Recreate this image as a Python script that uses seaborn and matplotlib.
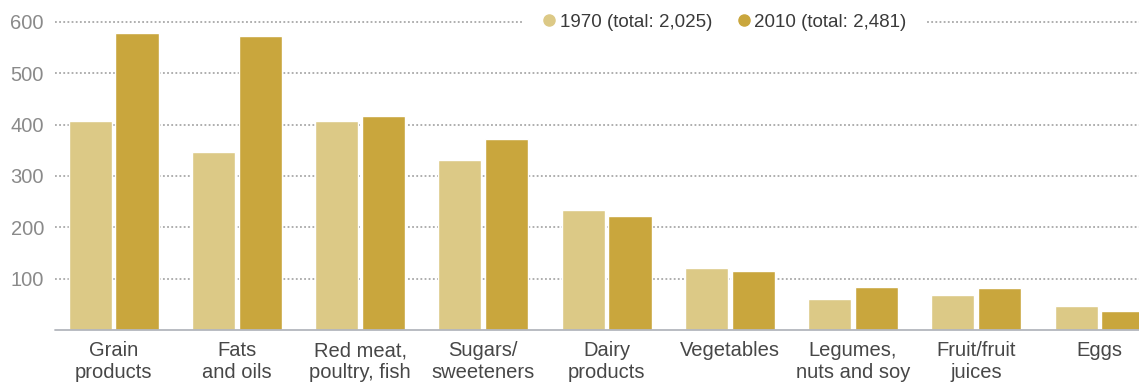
import matplotlib
matplotlib.use("Agg")
import matplotlib.pyplot as plt
from matplotlib.lines import Line2D
import pandas as pd
import seaborn as sns

# Daily calories per person by food group
categories = ["Grain\nproducts", "Fats\nand oils", "Red meat,\npoultry, fish",
              "Sugars/\nsweeteners", "Dairy\nproducts", "Vegetables",
              "Legumes,\nnuts and soy", "Fruit/fruit\njuices", "Eggs"]
values_1970 = [408, 346, 408, 332, 234, 121, 60, 68, 47]
values_2010 = [579, 573, 416, 373, 222, 115, 84, 82, 37]
series_labels = ["1970 (total: 2,025)", "2010 (total: 2,481)"]
yticks = [100, 200, 300, 400, 500, 600]

colors = ["#DCC986", "#C9A63D"]

df = pd.DataFrame({
    "category": categories * 2,
    "calories": values_1970 + values_2010,
    "year": [series_labels[0]] * len(categories) + [series_labels[1]] * len(categories),
})

sns.set_style("white")
plt.rcParams["font.family"] = ["Liberation Sans", "DejaVu Sans"]

fig = plt.figure(figsize=(11.39, 3.85), dpi=100)
ax = fig.add_axes([55 / 1139, 55 / 385, 1 - 55 / 1139, (330 - 22) / 385])

sns.barplot(data=df, x="category", y="calories", hue="year", order=categories,
            hue_order=series_labels, palette=colors, width=0.76, gap=0.08,
            saturation=1, errorbar=None, ax=ax, zorder=3, legend=False)

ax.set_ylim(0, 600)
ax.set_xlim(-0.475, 8.32)
ax.set_yticks(yticks)
ax.set_yticklabels([str(v) for v in yticks])
ax.set_xlabel("")
ax.set_ylabel("")

# dotted horizontal gridlines behind the bars
for v in yticks:
    ax.axhline(v, color="#a8a8a8", linestyle=(0, (1, 1.3)), linewidth=1.3,
               zorder=1, clip_on=False)
ax.axhline(0, color="#b3b6bd", linewidth=1.3, zorder=4, clip_on=False)

for side in ["top", "right", "left", "bottom"]:
    ax.spines[side].set_visible(False)

ax.tick_params(axis="y", length=0, pad=8, labelsize=14.5, labelcolor="#8a8a8a")
ax.tick_params(axis="x", length=0, pad=8, labelsize=14.5, labelcolor="#474747")
for lbl in ax.get_xticklabels():
    lbl.set_linespacing(1.2)

handles = [Line2D([0], [0], marker="o", linestyle="none", markersize=8,
                  markerfacecolor=c, markeredgecolor=c) for c in colors]
leg = fig.legend(handles, series_labels, loc="center",
                 bbox_to_anchor=(724 / 1139, (385 - 22) / 385),
                 bbox_transform=fig.transFigure, ncol=2, frameon=True,
                 framealpha=1, facecolor="white", edgecolor="none",
                 fontsize=13.5, handletextpad=0.15, columnspacing=1.3,
                 handlelength=0.8, borderpad=1.0, borderaxespad=0)
for t in leg.get_texts():
    t.set_color("#3a3a3a")
leg.set_zorder(10)

fig.savefig("out.png", dpi=100)
